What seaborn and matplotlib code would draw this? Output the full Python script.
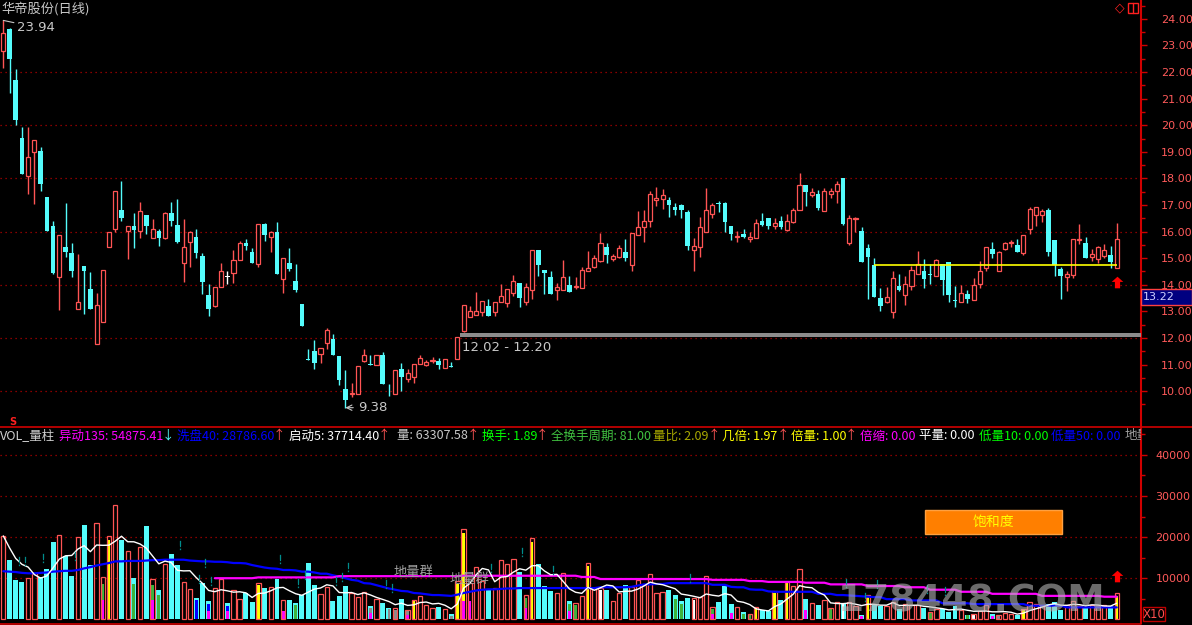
import numpy as np
import pandas as pd
import matplotlib.pyplot as plt
from matplotlib import font_manager
from matplotlib.lines import Line2D
from matplotlib.patches import Rectangle
from matplotlib.path import Path
import seaborn as sns

# ---------------- data ----------------
opens = [22.80, 23.62, 21.70, 19.53, 18.10, 19.00, 19.03, 17.30, 16.21, 14.31,
         15.42, 15.20, 13.08, 14.71, 13.84, 11.76, 12.59, 15.41, 16.11, 16.81,
         16.01, 16.21, 16.01, 16.62, 15.77, 16.02, 15.77, 16.69, 16.25, 14.83,
         15.60, 15.80, 15.08, 13.62, 13.22, 13.90, 14.31, 14.46, 14.92, 15.57,
         15.22, 14.77, 16.27, 15.78, 15.99, 14.21, 14.82, 14.14, 13.28, 11.22,
         11.51, 11.38, 11.80, 11.98, 11.32, 10.08, 9.88, 9.90, 11.15, 11.01,
         10.98, 11.37, 9.86, 9.88, 10.82, 10.47, 10.54, 11.01, 11.00, 11.14,
         11.13, 10.88, 10.94, 11.22, 12.27, 12.80, 12.87, 12.99, 13.20, 12.99,
         13.36, 13.32, 13.71, 14.05, 13.36, 13.79, 15.31, 14.54, 14.29, 13.80,
         13.79, 14.00, 13.92, 13.89, 14.53, 14.68, 14.90, 15.41, 14.98, 15.06,
         15.22, 14.73, 15.89, 16.18, 16.41, 17.20, 17.24, 17.19, 16.92, 17.00,
         16.73, 15.32, 15.43, 16.00, 16.67, 17.06, 17.07, 16.20, 15.80, 15.91,
         15.71, 15.77, 16.40, 16.51, 16.22, 16.40, 16.06, 16.37, 16.82, 17.75,
         17.39, 17.41, 16.78, 17.42, 17.54, 18.01, 15.58, 16.46, 16.02, 15.38,
         14.73, 13.49, 13.36, 12.99, 13.95, 13.63, 13.96, 14.42, 14.52, 14.38,
         14.34, 14.78, 14.85, 13.40, 13.36, 13.65, 13.44, 14.04, 14.64, 15.34,
         14.53, 15.34, 15.57, 15.49, 15.21, 16.11, 16.64, 16.64, 16.81, 15.68,
         14.59, 14.30, 14.38, 15.68, 15.59, 15.06, 14.98, 15.09, 15.11, 14.65]
highs = [23.94, 23.65, 22.11, 19.93, 19.93, 19.43, 19.18, 17.30, 16.41, 15.87,
         17.08, 15.57, 15.16, 14.71, 14.48, 13.68, 14.54, 15.97, 17.51, 17.90,
         16.21, 16.71, 17.13, 16.62, 16.47, 16.08, 16.72, 17.11, 17.23, 16.47,
         16.03, 16.09, 15.18, 14.03, 13.90, 14.81, 14.53, 15.29, 15.64, 15.72,
         15.40, 16.27, 16.32, 16.02, 16.37, 15.00, 15.38, 14.78, 13.28, 11.58,
         11.92, 11.61, 12.37, 12.15, 11.32, 10.79, 10.31, 10.93, 11.57, 11.35,
         11.35, 11.47, 10.27, 10.78, 11.06, 10.83, 11.01, 11.36, 11.16, 11.28,
         11.23, 11.20, 11.09, 12.02, 13.23, 13.20, 13.73, 13.38, 13.46, 13.34,
         14.03, 13.86, 14.37, 14.05, 14.07, 15.31, 15.31, 14.54, 14.53, 14.08,
         14.93, 14.33, 14.29, 14.66, 15.27, 15.12, 15.94, 15.59, 15.15, 15.49,
         15.72, 15.93, 16.77, 16.81, 17.52, 17.67, 17.60, 17.29, 17.09, 17.02,
         16.83, 15.76, 16.55, 17.64, 17.06, 17.15, 17.10, 16.20, 16.02, 16.09,
         15.97, 16.47, 16.70, 16.51, 16.51, 16.59, 16.66, 16.90, 18.20, 17.75,
         17.63, 17.58, 17.63, 17.63, 17.89, 18.01, 16.62, 16.56, 16.17, 15.53,
         15.00, 13.88, 13.90, 14.52, 14.39, 14.33, 14.69, 15.27, 14.97, 14.78,
         14.98, 14.78, 14.85, 13.97, 13.99, 13.82, 14.25, 14.88, 15.42, 15.60,
         15.27, 15.62, 15.70, 15.74, 15.89, 16.93, 16.92, 16.85, 16.89, 15.68,
         14.66, 14.52, 15.74, 16.28, 15.78, 15.34, 15.46, 15.55, 15.44, 16.32]
lows = [22.16, 21.22, 20.00, 18.17, 17.41, 17.03, 17.53, 16.03, 14.41, 13.05,
        15.06, 14.30, 13.08, 12.90, 13.10, 11.76, 12.59, 15.41, 15.99, 16.41,
        14.97, 15.40, 15.77, 15.92, 15.77, 15.47, 15.74, 16.22, 15.58, 14.12,
        14.67, 15.02, 13.65, 12.84, 13.16, 13.90, 14.03, 14.08, 14.92, 15.29,
        14.82, 14.68, 15.66, 15.25, 14.41, 13.68, 14.50, 13.74, 12.45, 11.17,
        10.84, 11.05, 11.60, 11.37, 10.24, 9.38, 9.77, 9.90, 11.08, 10.99,
        10.98, 10.27, 9.82, 9.88, 10.02, 10.36, 10.29, 11.01, 10.96, 11.06,
        10.84, 10.86, 10.90, 11.22, 12.23, 12.80, 12.87, 12.84, 12.84, 12.84,
        13.36, 13.17, 13.58, 13.17, 13.25, 13.47, 14.34, 13.66, 13.66, 13.43,
        13.79, 13.74, 13.85, 13.89, 14.53, 14.64, 14.84, 14.83, 14.90, 15.02,
        14.88, 14.53, 15.89, 15.62, 16.18, 16.97, 16.86, 16.56, 16.64, 16.53,
        15.31, 14.53, 15.06, 16.00, 16.52, 16.74, 16.00, 15.69, 15.60, 15.75,
        15.60, 15.77, 16.22, 16.11, 16.11, 16.11, 16.02, 16.33, 16.82, 16.96,
        17.31, 16.81, 16.78, 17.28, 17.09, 16.23, 15.50, 15.98, 14.87, 13.46,
        13.55, 13.02, 13.33, 12.76, 13.77, 13.25, 13.81, 14.39, 13.89, 14.04,
        14.34, 13.63, 13.37, 13.15, 13.36, 13.33, 13.41, 13.89, 14.53, 15.00,
        14.53, 15.30, 15.41, 15.24, 15.12, 15.91, 16.20, 16.37, 15.08, 14.33,
        13.46, 13.78, 14.27, 15.54, 15.02, 14.90, 14.83, 15.01, 14.64, 14.65]
closes = [23.45, 22.49, 20.20, 18.17, 18.80, 19.43, 17.80, 16.03, 14.43, 15.87,
          15.23, 14.53, 13.34, 14.53, 13.10, 13.23, 14.54, 15.97, 17.51, 16.52,
          16.21, 16.07, 16.77, 16.22, 16.09, 15.77, 16.69, 16.41, 15.62, 15.41,
          15.97, 15.21, 14.12, 13.10, 13.90, 14.50, 14.31, 14.92, 15.57, 15.44,
          14.82, 16.27, 15.87, 15.97, 14.41, 15.00, 14.59, 13.80, 12.45, 11.18,
          11.07, 11.61, 12.29, 11.37, 10.43, 9.68, 9.95, 10.93, 11.35, 10.99,
          11.35, 10.27, 9.84, 10.78, 10.54, 10.68, 11.01, 11.23, 11.10, 11.16,
          11.00, 11.20, 10.92, 12.02, 13.23, 13.00, 13.00, 13.38, 12.84, 13.34,
          13.58, 13.86, 14.13, 13.51, 13.91, 15.31, 14.75, 14.43, 13.66, 13.90,
          14.28, 13.74, 13.94, 14.54, 14.62, 14.99, 15.59, 15.13, 15.07, 15.37,
          15.02, 15.93, 16.19, 16.40, 17.41, 17.26, 17.36, 17.01, 16.81, 16.81,
          15.47, 15.44, 16.16, 16.80, 17.00, 17.04, 16.37, 15.92, 15.82, 15.78,
          15.78, 16.32, 16.26, 16.22, 16.32, 16.16, 16.40, 16.83, 17.75, 17.50,
          17.49, 16.90, 17.52, 17.52, 17.79, 16.30, 16.50, 16.50, 14.87, 15.06,
          13.55, 13.21, 13.53, 14.24, 13.80, 14.02, 14.55, 14.79, 14.23, 14.36,
          14.93, 14.19, 13.63, 13.38, 13.71, 13.48, 13.99, 14.52, 15.42, 15.16,
          15.23, 15.57, 15.59, 15.24, 15.89, 16.85, 16.92, 16.79, 15.24, 14.73,
          14.33, 14.39, 15.74, 15.70, 15.02, 15.14, 15.41, 15.29, 14.87, 15.71]

# volume, in thousands on the "X10" scale
volumes = [20.3, 14.5, 9.6, 9.1, 10.0, 11.2, 10.2, 12.3, 18.9, 20.6,
           15.3, 10.6, 20.1, 23.0, 13.3, 23.4, 10.2, 20.3, 27.9, 19.3,
           16.7, 10.1, 17.6, 22.8, 9.8, 7.2, 13.4, 15.9, 13.3, 9.1,
           7.4, 5.2, 8.9, 4.5, 7.6, 9.8, 3.9, 7.2, 5.0, 6.3,
           4.2, 8.8, 7.6, 7.8, 9.9, 4.7, 4.7, 4.0, 5.9, 13.7,
           8.4, 6.1, 7.9, 4.5, 5.7, 8.1, 6.4, 5.4, 6.6, 3.2,
           5.0, 4.0, 2.8, 2.8, 5.0, 2.3, 4.7, 5.6, 3.4, 2.7,
           3.0, 2.4, 1.3, 9.2, 22.0, 8.8, 12.7, 9.2, 7.4, 7.6,
           14.4, 13.4, 14.6, 11.5, 5.9, 19.8, 13.5, 8.1, 6.9, 6.4,
           11.2, 4.5, 3.9, 5.6, 13.7, 7.6, 7.6, 7.2, 4.5, 6.4,
           8.4, 7.8, 9.6, 8.4, 11.0, 6.4, 6.7, 7.2, 5.9, 4.5,
           5.2, 5.2, 5.4, 10.5, 3.0, 4.2, 8.1, 3.7, 3.0, 1.7,
           1.4, 3.0, 2.2, 1.9, 6.9, 4.7, 9.0, 8.1, 12.3, 5.0,
           4.0, 3.5, 4.7, 2.8, 4.2, 3.9, 4.2, 3.3, 1.1, 5.9,
           3.7, 3.2, 3.3, 4.2, 2.5, 3.7, 3.4, 3.4, 2.8, 1.8,
           2.5, 2.5, 1.8, 3.3, 2.3, 1.1, 1.3, 2.0, 3.4, 1.3,
           1.1, 1.5, 1.3, 1.1, 2.5, 4.2, 3.7, 3.3, 3.7, 4.2,
           2.3, 3.5, 4.5, 3.3, 2.9, 3.4, 3.2, 3.4, 3.2, 6.3]
vol_red_extra = [139, 149]

# blue 洗盘40 line
ma40 = [11.7, 11.6, 11.5, 11.3, 11.2, 11.2, 11.3, 11.4, 11.6, 11.7,
        11.8, 11.8, 12.0, 12.4, 12.7, 13.1, 13.4, 13.7, 14.1, 14.1,
        14.2, 14.2, 14.2, 14.3, 14.4, 14.4, 14.5, 14.5, 14.5, 14.5,
        14.3, 14.2, 14.1, 14.1, 14.0, 14.0, 13.9, 13.7, 13.7, 13.6,
        13.2, 12.9, 12.6, 12.4, 12.3, 12.0, 12.0, 11.9, 11.6, 11.6,
        11.4, 11.1, 11.1, 10.7, 10.4, 10.0, 9.6, 9.4, 8.8, 8.7,
        8.3, 7.9, 7.5, 7.2, 6.9, 6.8, 6.4, 6.3, 6.1, 5.9,
        5.9, 5.8, 5.7, 6.0, 6.4, 6.7, 7.0, 7.2, 7.3, 7.3,
        7.4, 7.5, 7.5, 7.6, 7.6, 7.6, 7.6, 7.6, 7.6, 7.6,
        7.6, 7.6, 7.6, 7.6, 7.6, 7.6, 7.8, 7.8, 7.8, 7.8,
        7.8, 7.9, 8.2, 8.5, 8.5, 8.6, 8.6, 8.8, 8.8, 8.8,
        8.8, 8.8, 8.8, 8.8, 8.4, 8.4, 8.4, 7.9, 7.8, 7.8,
        7.3, 7.2, 7.2, 6.8, 6.7, 6.7, 6.7, 6.7, 6.7, 6.7,
        6.7, 6.2, 6.2, 6.2, 5.9, 5.9, 5.8, 5.7, 5.6, 5.5,
        5.4, 5.4, 4.9, 4.9, 4.9, 4.9, 4.6, 4.6, 4.6, 4.6,
        4.6, 3.9, 3.9, 3.9, 3.9, 3.9, 3.7, 3.7, 3.7, 3.7,
        3.7, 3.7, 3.7, 3.7, 3.7, 3.3, 3.3, 3.3, 3.3, 3.3,
        3.3, 2.9, 2.9, 2.9, 2.9, 2.9, 2.9, 2.9, 2.9, 2.9]

# magenta 异动135 line, visible from bar 34 on
ma135_start = 34
ma135 = [10.0, 10.0, 10.0, 10.0, 10.0, 10.0, 10.0, 10.2, 10.2, 10.2,
         10.2, 10.2, 10.2, 10.2, 10.2, 10.2, 10.2, 10.2, 10.2, 10.2,
         10.5, 10.5, 10.5, 10.5, 10.5, 10.5, 10.5, 10.5, 10.5, 10.5,
         10.5, 10.5, 10.5, 10.5, 10.5, 10.5, 10.5, 10.5, 10.5, 10.5,
         10.6, 10.6, 10.6, 10.6, 10.6, 10.6, 10.6, 10.6, 10.6, 10.6,
         10.6, 10.6, 10.6, 10.6, 10.6, 10.6, 10.6, 10.6, 10.6, 10.3,
         10.3, 10.3, 9.8, 9.8, 9.8, 9.8, 9.8, 9.8, 9.8, 9.8,
         9.8, 9.8, 9.8, 9.8, 9.8, 9.8, 9.8, 9.8, 9.8, 9.8,
         9.6, 9.6, 9.6, 9.6, 9.6, 9.6, 9.3, 9.3, 9.3, 9.1,
         9.1, 9.1, 9.1, 9.1, 9.1, 8.9, 8.9, 8.9, 8.9, 8.5,
         8.5, 8.5, 8.5, 8.5, 8.5, 8.1, 8.1, 8.1, 8.1, 8.1,
         8.1, 7.8, 7.8, 7.8, 7.8, 7.2, 7.2, 7.2, 7.2, 7.2,
         6.7, 6.7, 6.7, 6.7, 6.7, 6.2, 6.2, 6.2, 6.2, 6.2,
         6.2, 6.2, 6.2, 5.7, 5.7, 5.7, 5.7, 5.7, 5.7, 5.7,
         5.7, 5.7, 5.7, 5.5, 5.5, 5.5]

# coloured fills inside volume bars
in_yellow_idx = [17, 41, 66, 73, 74, 85, 94, 121, 124, 126, 139, 164, 179]
in_yellow_h = [19.3, 8.3, 4.5, 8.6, 21.1, 18.9, 13.0, 2.8, 6.3, 8.8, 5.6, 2.4, 5.7]
in_green_idx = [16, 21, 24, 25, 47, 84, 91, 92, 108, 109, 114, 119, 120, 133, 149, 155]
in_green_h = [8.6, 8.6, 8.4, 5.9, 3.5, 5.2, 3.7, 3.5, 5.0, 3.7, 2.5, 1.4, 1.1, 2.6, 1.6, 1.0]
in_blue_idx = [31, 33, 36]
in_blue_h = [4.6, 3.7, 3.3]
in_white_idx = [96, 111, 135, 156]
in_white_h = [7.1, 4.7, 3.7, 1.1]
in_gray_idx = [59, 62, 63, 65, 72, 160]
in_gray_h = [2.8, 2.5, 2.3, 2.0, 0.9, 0.9]
in_magenta_idx = [16, 24, 33, 36, 45, 59, 65, 74, 75, 84, 91, 114, 117, 129, 138, 159]
in_magenta_h = [4.7, 4.7, 2.0, 1.9, 2.0, 1.6, 1.1, 4.5, 4.5, 2.8, 2.0, 1.4, 1.5, 2.3, 0.7, 0.7]

# small teal "!" signals above the volume bars
excl_idx = [2, 3, 6, 11, 28, 31, 32, 33, 44, 47, 48, 53, 54, 55, 61, 62,
            78, 83, 88, 110, 135, 138, 140, 148, 151]
excl_val = [14.1, 14.1, 14.9, 15.3, 18.0, 9.8, 13.7, 9.2, 14.6, 8.9, 10.7, 9.2,
            10.2, 12.8, 8.6, 7.6, 12.4, 16.3, 12.0, 10.0, 8.8, 5.5, 8.5, 7.3, 7.0]

gap_idx, gap_low, gap_high = 73, 12.02, 12.20
base_line_start, base_line_end, base_line_val = 140, 179, 14.73
signal_idx, signal_price, signal_vol = 179, 14.1, 10.5
low_idx, high_idx = 55, 0

header = [(0, 'VOL_量柱', '#d0d0d0'), (59, '异动135: 54875.41', '#ff00ff'),
          (162, '↓', '#54fcfc'), (177, '洗盘40: 28786.60', '#0000ff'),
          (273, '↑', '#ff5454'), (289, '启动5: 37714.40', '#ffffff'),
          (378, '↑', '#ff5454'), (397, '量: 63307.58', '#c8c8c8'),
          (467, '↑', '#ff5454'), (482, '换手: 1.89', '#00ff00'),
          (536, '↑', '#ff5454'), (551, '全换手周期: 81.00', '#40c040'),
          (653, '量比: 2.09', '#a8a800'), (708, '↑', '#ff5454'),
          (722, '几倍: 1.97', '#ffff00'), (777, '↑', '#ff5454'),
          (791, '倍量: 1.00', '#ffff00'), (845, '↑', '#ff5454'),
          (860, '倍缩: 0.00', '#ff00ff'), (919, '平量: 0.00', '#ffffff'),
          (979, '低量10: 0.00', '#00ff00'), (1051, '低量50: 0.00', '#0000ff'),
          (1125, '地量', '#a0a0a0')]

# ---------------- style ----------------
sns.set_theme(style='dark', rc={'axes.facecolor': 'black', 'figure.facecolor': 'black',
                                 'savefig.facecolor': 'black', 'axes.grid': False})
plt.rcParams['font.family'] = ['Noto Sans CJK SC', 'DejaVu Sans']
plt.rcParams['axes.unicode_minus'] = False

installed = {f.name for f in font_manager.fontManager.ttflist}
if 'Liberation Sans Narrow' in installed:
    NUM_FONT, NUM_SIZE = 'Liberation Sans Narrow', 10.5
elif 'DejaVu Sans Condensed' in installed:
    NUM_FONT, NUM_SIZE = 'DejaVu Sans Condensed', 8.5
else:
    NUM_FONT, NUM_SIZE = 'DejaVu Sans', 8

RED = '#ff5454'
CYAN = '#54fcfc'
AXIS_RED = '#d00000'
GRID_RED = '#b40000'
LABEL_RED = '#ff5a5a'

W, H = 1192, 625
XMIN, XMAX = -0.53, 182.9


def fx(px):
    return px / W


def fy(py):
    return 1 - py / H


df = pd.DataFrame({'open': opens, 'high': highs, 'low': lows, 'close': closes, 'vol': volumes})
df['idx'] = np.arange(len(df))
idx = df['idx'].to_numpy()
o, h, l, c = (df[k].to_numpy() for k in ['open', 'high', 'low', 'close'])
up = c > o
down = c < o
flat = ~(up | down)

fig = plt.figure(figsize=(W / 100, H / 100), dpi=100)
ax = fig.add_axes([0, fy(427), fx(1141), 427 / H])
axv = fig.add_axes([0, fy(623), fx(1141), 196 / H])

# ---------------- price panel ----------------
for y in range(10, 24, 2):
    ax.axhline(y, color=GRID_RED, lw=0.9, ls=(0, (1, 3)), zorder=1)

cols = np.where(up, RED, np.where(down, CYAN, '#ffffff'))
ax.vlines(idx, l, h, colors=cols, lw=1.0, zorder=2)
bot = np.minimum(o, c)
hgt = np.maximum(np.abs(c - o), 0.03)
ax.bar(idx[down], hgt[down], bottom=bot[down], width=0.74, color=CYAN, lw=0, zorder=3)
ax.bar(idx[up], hgt[up], bottom=bot[up], width=0.66, facecolor='black',
       edgecolor=RED, lw=0.9, zorder=3)
ax.bar(idx[flat], hgt[flat], bottom=bot[flat], width=0.74, color='#ffffff', lw=0, zorder=3)

# gap band and its label
ax.fill_between([gap_idx + 0.38, XMAX], gap_low, gap_high, color='#8c8c8c', lw=0, zorder=4)
ax.annotate(f'{gap_low:.2f} - {gap_high:.2f}', xy=(gap_idx, gap_low), xytext=(3, -7),
            textcoords='offset points', color='#c8c8c8', fontsize=9.5, family=NUM_FONT,
            va='center', ha='left')
# yellow base line
ax.hlines(base_line_val, base_line_start, base_line_end, color='#ffff00', lw=1.2, zorder=5)

# high / low labels
ax.annotate(f'{h[high_idx]:.2f}', xy=(high_idx, h[high_idx]), xytext=(10, -5),
            textcoords='offset points', color='#c8c8c8', fontsize=9.5, family=NUM_FONT,
            va='center', ha='left',
            arrowprops=dict(arrowstyle='-', color='#c8c8c8', lw=0.8, shrinkA=0, shrinkB=0))
ax.annotate(f'{l[low_idx]:.2f}', xy=(low_idx, l[low_idx]), xytext=(9, 0),
            textcoords='offset points', color='#c8c8c8', fontsize=9.5, family=NUM_FONT,
            va='center', ha='left',
            arrowprops=dict(arrowstyle='->', color='#c8c8c8', lw=0.8, shrinkA=1, shrinkB=0))

arrow_path = Path([(0, 1), (-1, 0.1), (-0.45, 0.1), (-0.45, -1), (0.45, -1),
                   (0.45, 0.1), (1, 0.1), (0, 1)], closed=True)
ax.scatter([signal_idx], [signal_price], marker=arrow_path, s=70, color='#ff0000', lw=0, zorder=6)

# ---------------- volume panel ----------------
for y in (10, 20, 30, 40):
    axv.axhline(y, color=GRID_RED, lw=0.9, ls=(0, (1, 3)), zorder=1)

v = df['vol'].to_numpy()
vol_up = up.copy()
vol_up[vol_red_extra] = True
axv.bar(idx[~vol_up], v[~vol_up], width=0.8, color=CYAN, lw=0, zorder=2)
for ids, hs, col in [(in_yellow_idx, in_yellow_h, '#ffff00'), (in_green_idx, in_green_h, '#3cb43c'),
                     (in_blue_idx, in_blue_h, '#0000ff'), (in_white_idx, in_white_h, '#ffffff'),
                     (in_gray_idx, in_gray_h, '#8c8c8c'), (in_magenta_idx, in_magenta_h, '#ff00ff')]:
    axv.bar(ids, hs, width=0.46, color=col, lw=0, zorder=2.5)
axv.bar(idx[vol_up], v[vol_up], width=0.7, facecolor='none', edgecolor=RED, lw=0.9, zorder=3)

lines = pd.DataFrame({'idx': idx, 'ma5': df['vol'].rolling(5, min_periods=1).mean(), 'ma40': ma40})
m135 = pd.DataFrame({'idx': idx[ma135_start:], 'ma135': ma135})
sns.lineplot(data=lines, x='idx', y='ma40', color='#0000ff', lw=1.6, ax=axv, zorder=4)
sns.lineplot(data=m135, x='idx', y='ma135', color='#ff00ff', lw=1.6, ax=axv, zorder=4)
sns.lineplot(data=lines, x='idx', y='ma5', color='#ffffff', lw=1.0, ax=axv, zorder=5)

# "!" signals drawn as markers
axv.scatter(np.array(excl_idx) + 0.45, excl_val, marker='$!$', s=45, color='#008c8c',
            lw=0, zorder=6)

axv.text(66, 11.3, '地量群', color='#a0a0a0', fontsize=9.5, ha='center', va='center', zorder=6)
axv.text(75, 9.8, '地量群', color='#a0a0a0', fontsize=9.5, ha='center', va='center', zorder=6)
axv.scatter([signal_idx], [signal_vol], marker=arrow_path, s=70, color='#ff0000', lw=0, zorder=6)

# 饱和度 box
axv.add_patch(Rectangle((925 / 1141, (623 - 534) / 196), 137 / 1141, 24 / 196,
                        transform=axv.transAxes, facecolor='#ff7f00', edgecolor='#ffa040',
                        lw=1, zorder=6))
axv.text(993 / 1141, (623 - 522) / 196, '饱和度', transform=axv.transAxes, color='#ffff00',
         fontsize=10, ha='center', va='center', zorder=7)

# header line of the volume panel
for x, txt, col in header:
    axv.text(x / 1141, (623 - 436) / 196, txt, transform=axv.transAxes, color=col,
             fontsize=9, ha='left', va='center', clip_on=True, zorder=7)

# ---------------- axes ----------------
for a in (ax, axv):
    a.set_facecolor('black')
    a.set_xlim(XMIN, XMAX)
    a.set_xticks([])
    a.set_xlabel('')
    a.set_ylabel('')
    for s in ('left', 'top', 'bottom'):
        a.spines[s].set_visible(False)
    a.spines['right'].set_color(AXIS_RED)
    a.spines['right'].set_linewidth(1.5)
    a.yaxis.tick_right()
    a.tick_params(axis='y', which='both', colors=AXIS_RED, labelcolor=LABEL_RED,
                  direction='out', width=1)
    a.tick_params(axis='y', which='major', length=4.5)
    a.tick_params(axis='y', which='minor', length=3)

ax.set_ylim(8.654, 24.707)
ax.set_yticks(np.arange(10, 25, 1))
ax.set_yticklabels([f'{t:.2f}' for t in np.arange(10, 25, 1)])
ax.set_yticks(np.arange(9.5, 25, 1), minor=True)
ax.tick_params(axis='y', which='major', pad=10)

axv.set_ylim(-0.9, 46.8)
axv.set_yticks([10, 20, 30, 40])
axv.set_yticklabels(['10000', '20000', '30000', '40000'])
axv.set_yticks([5, 15, 25, 35, 45], minor=True)
axv.tick_params(axis='y', which='major', pad=6)

for a in (ax, axv):
    for t in a.get_yticklabels():
        t.set_fontfamily(NUM_FONT)
        t.set_fontsize(NUM_SIZE)

# separators
fig.add_artist(Line2D([0, 1], [fy(427), fy(427)], color=AXIS_RED, lw=1.2, transform=fig.transFigure))
fig.add_artist(Line2D([0, fx(1141)], [fy(623.5), fy(623.5)], color=AXIS_RED, lw=1.2,
                      transform=fig.transFigure))

# ---------------- figure-level labels ----------------
fig.text(fx(1), fy(9), '华帝股份(日线)', color='#c8c8c8', fontsize=9.5, va='center', ha='left')
fig.text(fx(13), fy(422), 'S', color='#ff2020', fontsize=7, fontweight='bold',
         family='DejaVu Sans', va='center', ha='center')
fig.text(fx(1119.5), fy(8), '◇', color='#ff2020', fontsize=9, family='DejaVu Sans',
         va='center', ha='center')
fig.add_artist(Rectangle((fx(1128), fy(13)), 10 / W, 10 / H, transform=fig.transFigure,
                         facecolor='none', edgecolor='#ff2020', lw=1))
fig.add_artist(Line2D([fx(1133), fx(1133)], [fy(13), fy(3)], color='#ff2020', lw=1,
                      transform=fig.transFigure))

fig.add_artist(Rectangle((fx(1141), fy(305)), 51 / W, 16 / H, transform=fig.transFigure,
                         facecolor='#000080', edgecolor='#ff4040', lw=1))
fig.text(fx(1143), fy(297), '13.22', color='#d0d0ff', fontsize=NUM_SIZE, family=NUM_FONT,
         va='center', ha='left')

fig.add_artist(Rectangle((fx(1143), fy(621)), 22 / W, 14 / H, transform=fig.transFigure,
                         facecolor='none', edgecolor='#c00000', lw=1))
fig.text(fx(1154), fy(614), 'X10', color='#ff5050', fontsize=8.5, family=NUM_FONT,
         va='center', ha='center')

fig.text(fx(838), fy(601), '178448.COM', color='#b4b4b4', alpha=0.6, fontsize=27,
         fontweight='bold', family='DejaVu Sans', va='center', ha='left')

fig.savefig('out.png', dpi=100, facecolor='black')
